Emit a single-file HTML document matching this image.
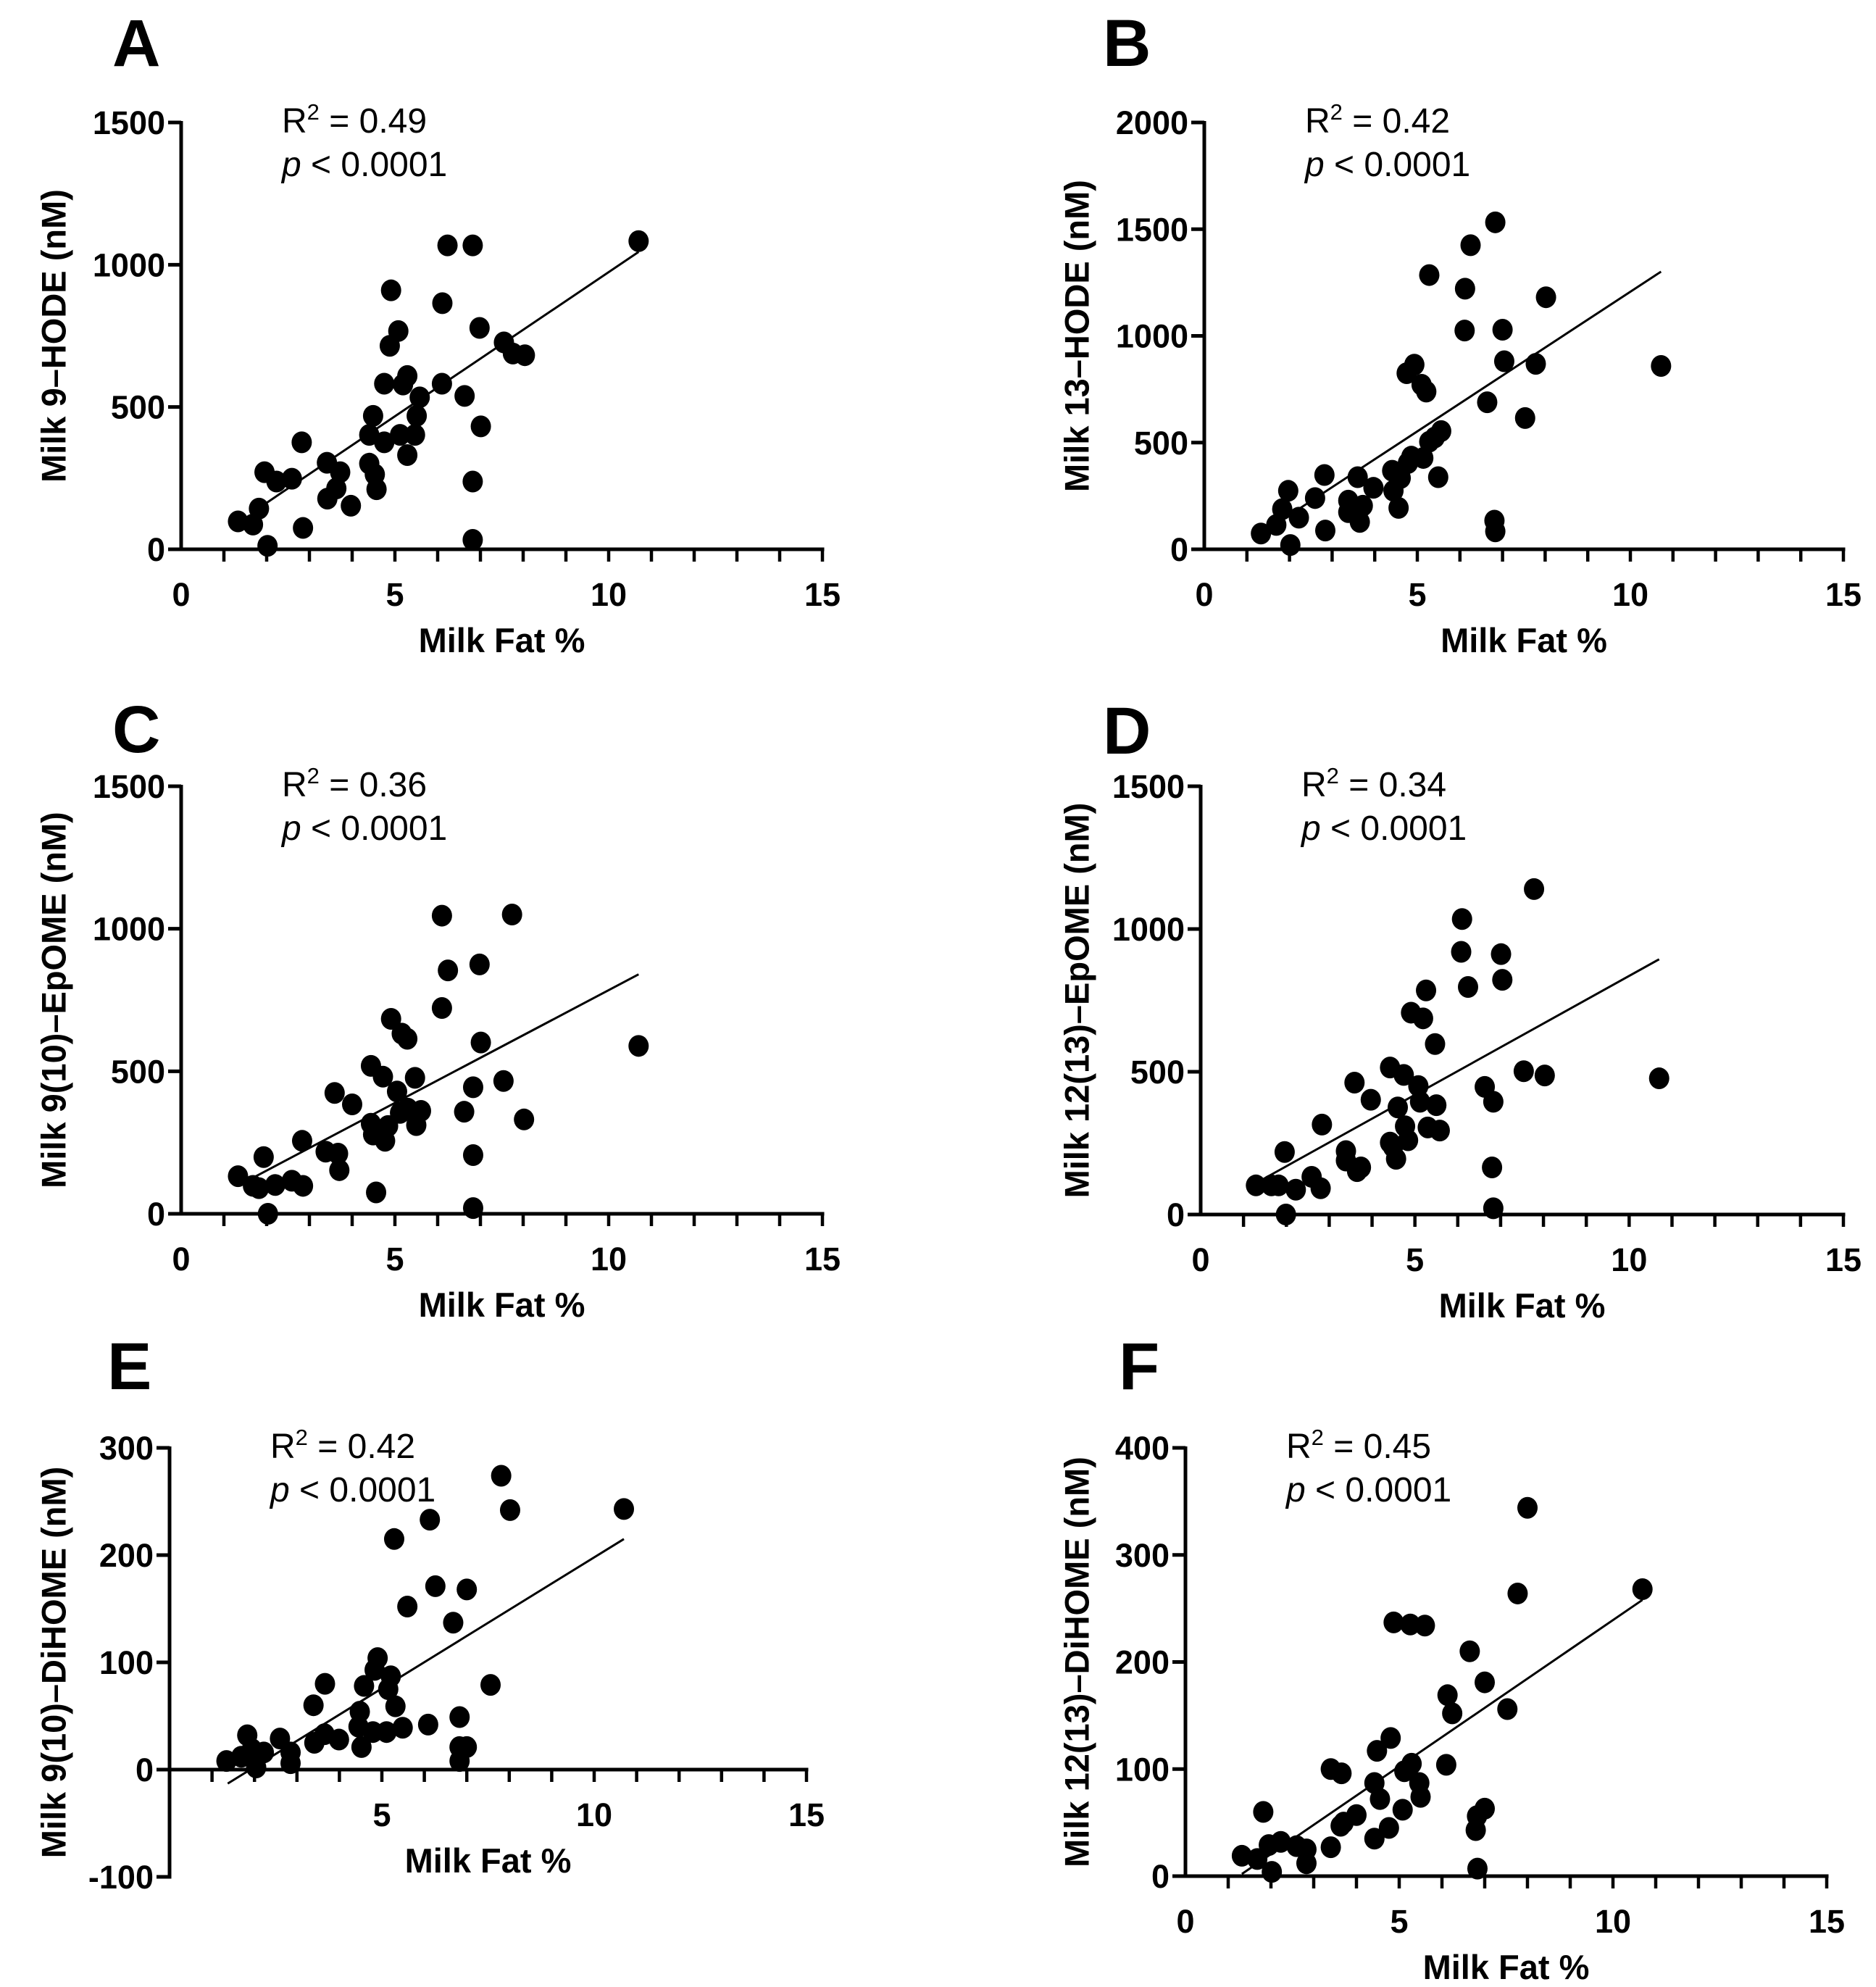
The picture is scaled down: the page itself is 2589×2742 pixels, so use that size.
<!DOCTYPE html>
<html><head><meta charset="utf-8">
<style>
html,body{margin:0;padding:0;background:#fff;}
svg{display:block;}
text{font-family:"Liberation Sans",Arial,sans-serif;fill:#000;}
.tick{font-size:45px;font-weight:bold;}
.title{font-size:47px;font-weight:bold;}
.stat{font-size:48px;}
.letter{font-family:"Liberation Sans",Arial,sans-serif;font-size:92px;font-weight:bold;}
</style></head>
<body>
<svg id="fig" width="2589" height="2742" viewBox="0 0 2589 2742" xmlns="http://www.w3.org/2000/svg"></svg>
<script>
// ---- Panel A: Milk 9-HODE ----
const aX=[1.33,1.68,1.82,1.95,2.02,2.23,2.59,2.82,2.85,3.41,3.42,3.63,3.72,3.97,4.40,4.40,4.49,4.53,4.57,4.75,4.75,4.88,4.91,5.08,5.12,5.19,5.29,5.29,5.47,5.51,5.58,6.10,6.11,6.23,6.63,6.82,6.82,6.82,6.98,7.01,7.55,7.76,8.04,10.70];
const aY=[98,87,143,271,12,238,248,376,75,304,178,214,271,153,301,402,469,263,211,376,582,715,910,767,402,579,609,331,402,469,534,582,865,1068,539,1068,238,33,778,432,727,688,682,1083];
const aLineX=[1.8,10.7];
const aLineY=[143,1045];
// ---- Panel B: Milk 13-HODE ----
const bX=[1.33,1.69,1.83,1.97,2.02,2.22,2.60,2.82,2.84,3.38,3.38,3.60,3.62,3.65,3.72,3.97,4.41,4.44,4.56,4.61,4.78,4.86,4.75,4.93,5.10,5.21,5.14,5.28,5.28,5.41,5.49,5.56,6.11,6.12,6.25,6.64,6.81,6.83,6.83,7.00,7.04,7.53,7.78,8.02,10.72];
const bY=[74,114,188,274,20,148,240,348,88,228,174,338,184,128,204,288,368,274,194,334,404,434,825,865,771,739,428,504,1285,524,338,554,1025,1221,1425,689,134,84,1532,1029,881,615,869,1181,859];
const bLineX=[1.8,10.72];
const bLineY=[134,1301];
// ---- Panel C: Milk 9(10)-EpOME ----
const cX=[1.33,1.68,1.82,1.93,2.03,2.20,2.59,2.83,2.85,3.38,3.59,3.67,3.70,4.00,4.44,4.44,4.49,4.56,4.72,4.77,4.84,4.91,5.05,5.12,5.16,5.29,5.30,5.47,5.50,5.61,6.10,6.10,6.24,6.62,6.83,6.83,6.83,6.98,7.01,7.54,7.74,8.02,10.70];
const cY=[132,98,90,199,0,101,116,256,98,218,424,211,153,384,519,316,278,75,481,256,308,684,429,354,632,614,369,477,311,361,722,1046,854,358,206,444,20,875,601,466,1050,331,589];
const cLineX=[1.7,10.7];
const cLineY=[128,840];
// ---- Panel D: Milk 12(13)-EpOME ----
const dX=[1.29,1.65,1.82,1.96,1.99,2.22,2.59,2.80,2.83,3.39,3.39,3.59,3.65,3.74,3.97,4.42,4.42,4.49,4.56,4.60,4.74,4.77,4.84,4.91,5.08,5.12,5.19,5.26,5.30,5.50,5.47,5.58,6.10,6.08,6.24,6.63,6.80,6.83,6.83,7.01,7.04,7.54,7.78,8.03,10.70];
const dY=[102,102,102,219,0,87,132,92,315,222,189,462,152,165,402,515,252,237,195,375,489,309,260,707,450,395,687,785,305,383,597,294,1035,920,797,447,165,395,22,912,822,502,1140,487,477];
const dLineX=[1.47,10.7];
const dLineY=[125,894];
// ---- Panel E: Milk 9(10)-DiHOME ----
const eX=[1.34,1.69,1.83,1.94,2.04,2.22,2.60,2.85,2.85,3.39,3.41,3.66,3.65,3.99,4.45,4.48,4.52,4.58,4.79,4.83,4.90,5.11,5.15,5.21,5.29,5.32,5.49,5.60,6.09,6.13,6.26,6.68,6.83,6.83,6.83,7.00,7.00,7.56,7.81,8.02,10.70];
const eY=[8,12,32,19,2,16,29,16,6,60,25,80,33,28,40,54,21,78,35,93,104,35,75,87,215,59,39,152,42,233,171,137,49,21,8,21,168,79,274,242,243];
const eLineX=[1.37,10.7];
const eLineY=[-13,215];
// ---- Panel F: Milk 12(13)-DiHOME ----
const fX=[1.32,1.68,1.82,1.95,2.02,2.23,2.60,2.83,2.83,3.40,3.40,3.65,3.63,3.70,4.00,4.42,4.42,4.48,4.55,4.76,4.80,4.87,5.08,5.12,5.29,5.26,5.47,5.50,5.60,6.10,6.13,6.24,6.65,6.79,6.82,6.83,7.00,7.00,7.53,7.77,8.00,10.69];
const fY=[19,16,60,29,4,32,28,12,25,27,100,96,47,50,57,87,35,117,72,45,129,237,62,98,105,235,87,74,234,104,169,152,210,43,56,7,63,181,156,264,344,268];
const fLineX=[1.32,10.69];
const fLineY=[2,258];
// ---- axis tick labels ----
const yTicksA=[0,500,1000,1500];
const yTicksB=[0,500,1000,1500,2000];
const yTicksE=[-100,0,100,200,300];
const yTicksF=[0,100,200,300,400];
const xTicksMain=[0,5,10,15];
const xTicksE=[5,10,15];

const NS="http://www.w3.org/2000/svg";
const svg=document.getElementById('fig');
function mk(tag,attrs,parent){const e=document.createElementNS(NS,tag);for(const k in attrs)e.setAttribute(k,attrs[k]);(parent||svg).appendChild(e);return e;}

const panels=[
 {id:'a',letter:'A',lx:155,ly:91,x0:250,x15:1135,y0:758,yTop:169,yMin:0,yMax:1500,yTicks:yTicksA,xLab:xTicksMain,xs:aX,ys:aY,lX:aLineX,lY:aLineY,title:'Milk 9\u2013HODE (nM)',tx:74,r2:'0.49'},
 {id:'b',letter:'B',lx:1522,ly:91,x0:1662,x15:2544,y0:758,yTop:169,yMin:0,yMax:2000,yTicks:yTicksB,xLab:xTicksMain,xs:bX,ys:bY,lX:bLineX,lY:bLineY,title:'Milk 13\u2013HODE (nM)',tx:1486,r2:'0.42'},
 {id:'c',letter:'C',lx:155,ly:1038,x0:250,x15:1135,y0:1675,yTop:1085,yMin:0,yMax:1500,yTicks:yTicksA,xLab:xTicksMain,xs:cX,ys:cY,lX:cLineX,lY:cLineY,title:'Milk 9(10)\u2013EpOME (nM)',tx:74,r2:'0.36'},
 {id:'d',letter:'D',lx:1522,ly:1040,x0:1657,x15:2544,y0:1676,yTop:1085,yMin:0,yMax:1500,yTicks:yTicksA,xLab:xTicksMain,xs:dX,ys:dY,lX:dLineX,lY:dLineY,title:'Milk 12(13)\u2013EpOME (nM)',tx:1486,r2:'0.34'},
 {id:'e',letter:'E',lx:148,ly:1917,x0:234,x15:1113,y0:2442,yTop:1998,yMin:-100,yMax:300,yTicks:yTicksE,xLab:xTicksE,xs:eX,ys:eY,lX:eLineX,lY:eLineY,title:'Milk 9(10)\u2013DiHOME (nM)',tx:74,r2:'0.42'},
 {id:'f',letter:'F',lx:1544,ly:1917,x0:1636,x15:2521,y0:2589,yTop:1998,yMin:0,yMax:400,yTicks:yTicksF,xLab:xTicksMain,xs:fX,ys:fY,lX:fLineX,lY:fLineY,title:'Milk 12(13)\u2013DiHOME (nM)',tx:1486,r2:'0.45'}
];

panels.forEach(p=>{
  const g=mk('g',{});
  
  
  const sx=v=>p.x0+(v/15)*(p.x15-p.x0);
  const sy=v=>p.y0-(v/p.yMax)*(p.y0-p.yTop);
  const yBottom=sy(p.yMin);
  const L=mk('text',{x:p.lx,y:p.ly,class:'letter'},g);L.textContent=p.letter;
  
  
  const ya=mk('line',{x1:p.x0,y1:p.yTop-2,x2:p.x0,y2:yBottom+2.5,stroke:'#000','stroke-width':5},g);
  
  
  p.yTicks.forEach(t=>{
    const y=sy(t);
    mk('line',{x1:p.x0-18,y1:y,x2:p.x0,y2:y,stroke:'#000','stroke-width':5},g);
    const tl=mk('text',{x:p.x0-22,y:y+16,class:'tick','text-anchor':'end'},g);tl.textContent=t;
    
    
  });
  const xa=mk('line',{x1:p.x0-2,y1:p.y0,x2:p.x15+2.5,y2:p.y0,stroke:'#000','stroke-width':5},g);
  
  
  for(let i=1;i<=15;i++){
    mk('line',{x1:sx(i),y1:p.y0,x2:sx(i),y2:p.y0+17,stroke:'#000','stroke-width':4.5},g);
  }
  p.xLab.forEach(t=>{
    const tl=mk('text',{x:sx(t),y:p.y0+78,class:'tick','text-anchor':'middle'},g);tl.textContent=t;
    
    
  });
  const xt=mk('text',{x:(p.x0+p.x15)/2,y:p.y0+142,class:'title','text-anchor':'middle'},g);xt.textContent='Milk Fat %';
  
  
  const cy=(p.yTop+yBottom)/2;
  const yt=mk('text',{x:p.tx,y:cy,class:'title','text-anchor':'middle',transform:'rotate(-90 '+p.tx+' '+cy+')','dominant-baseline':'central'},g);yt.textContent=p.title;
  
  
  const st=mk('text',{x:p.x0+139,y:p.yTop+14,class:'stat'},g);
  st.innerHTML='R<tspan dy="-18" font-size="31">2</tspan><tspan dy="18"> = '+p.r2+'</tspan>';
  
  
  const pv=mk('text',{x:p.x0+139,y:p.yTop+74,class:'stat'},g);
  pv.innerHTML='<tspan font-style="italic">p</tspan> &lt; 0.0001';
  
  
  const rl=mk('line',{x1:sx(p.lX[0]),y1:sy(p.lY[0]),x2:sx(p.lX[1]),y2:sy(p.lY[1]),stroke:'#000','stroke-width':3},g);
  
  
  p.xs.forEach((xv,i)=>{
    const c=mk('ellipse',{cx:sx(xv),cy:sy(p.ys[i]),rx:14,ry:15,fill:'#000'},g);
    
    
  });
});
</script>
</body></html>
